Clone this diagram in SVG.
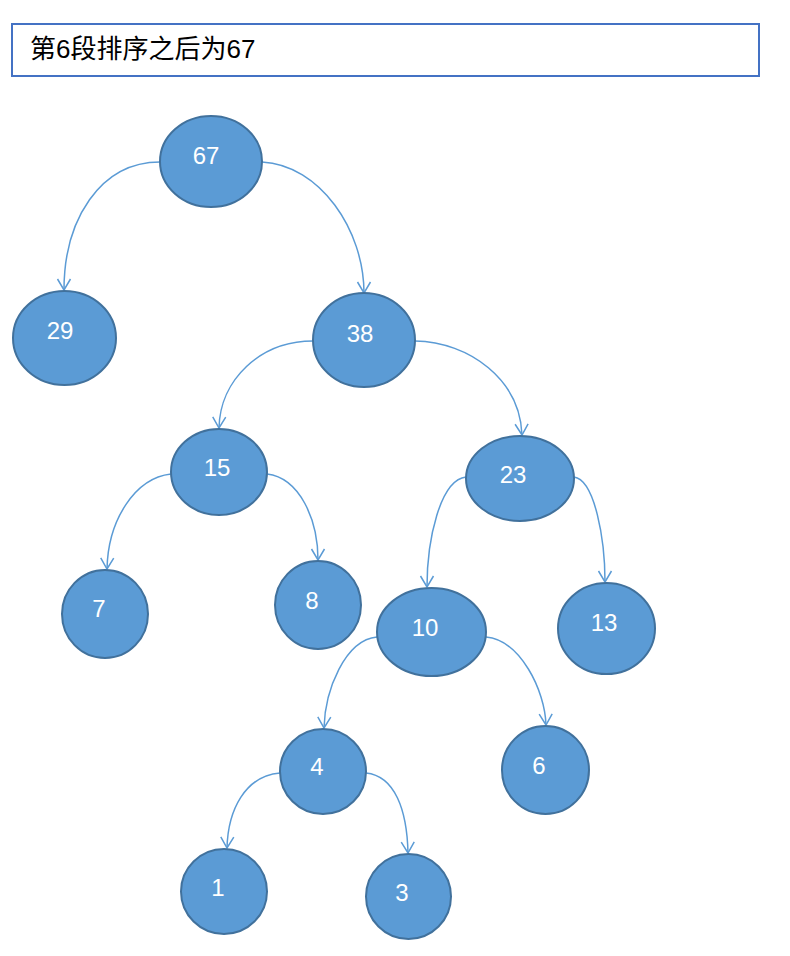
<svg xmlns="http://www.w3.org/2000/svg" width="790" height="956" viewBox="0 0 790 956">
<style>
.n ellipse{fill:#5B9BD5;stroke:#41719C;stroke-width:2}
.n text{fill:#fff;font-family:"Liberation Sans",Arial,sans-serif;font-size:24px;text-anchor:middle}
.e path{fill:none;stroke:#5B9BD5;stroke-width:1.5;marker-end:url(#a)}
</style>
<defs>
<marker id="a" markerUnits="userSpaceOnUse" markerWidth="16" markerHeight="16" viewBox="-12 -8 14 16" refX="0" refY="0" orient="auto">
<path d="M-11,-6.5 L0,0 L-11,6.5" fill="none" stroke="#5B9BD5" stroke-width="1.5"/>
</marker>
</defs>
<rect width="790" height="956" fill="#fff"/>
<g id="title">
<rect x="12" y="24" width="747" height="52" fill="#fff" stroke="#4472C4" stroke-width="2"/>
<text x="30" y="58" font-family="'Liberation Sans','Noto Sans CJK SC',sans-serif" font-size="26" fill="#000">第6段排序之后为67</text>
</g>
<g id="edges" class="e">
<path d="M160,162 C100,162 64,220 64,290"/>
<path d="M262,162 C320,165 364,230 364,293"/>
<path d="M313,341 C260,341 220,380 219,428"/>
<path d="M415,341 C470,342 520,380 522,435"/>
<path d="M171,474 C135,478 108,520 107,569"/>
<path d="M267,474 C300,478 318,520 318,560"/>
<path d="M466,477 C440,480 427,540 427,587"/>
<path d="M574,477 C595,480 605,540 605,582"/>
<path d="M377,637 C345,640 325,690 324,728"/>
<path d="M486,637 C520,640 545,690 546,725"/>
<path d="M280,773 C245,776 228,810 227,848"/>
<path d="M366,773 C395,776 407,810 408,853"/>
</g>
<g id="n67" class="n"><ellipse cx="211" cy="161.5" rx="51" ry="45.5"/><text x="206" y="164">67</text></g>
<g id="n29" class="n"><ellipse cx="64.5" cy="338" rx="51.5" ry="47"/><text x="60" y="339">29</text></g>
<g id="n38" class="n"><ellipse cx="364" cy="340" rx="51" ry="47"/><text x="360" y="342">38</text></g>
<g id="n15" class="n"><ellipse cx="219" cy="472" rx="48" ry="43"/><text x="217" y="476">15</text></g>
<g id="n23" class="n"><ellipse cx="520" cy="478.5" rx="54" ry="42.5"/><text x="513" y="483">23</text></g>
<g id="n7" class="n"><ellipse cx="105" cy="614" rx="43" ry="44"/><text x="99" y="617">7</text></g>
<g id="n8" class="n"><ellipse cx="318" cy="605" rx="43" ry="44"/><text x="312" y="609">8</text></g>
<g id="n10" class="n"><ellipse cx="431.5" cy="632" rx="54.5" ry="44"/><text x="425" y="636">10</text></g>
<g id="n13" class="n"><ellipse cx="606.5" cy="628.5" rx="48.5" ry="45.5"/><text x="604" y="631">13</text></g>
<g id="n4" class="n"><ellipse cx="323" cy="771.5" rx="43" ry="42.5"/><text x="317" y="775">4</text></g>
<g id="n6" class="n"><ellipse cx="545.5" cy="770" rx="43.5" ry="44"/><text x="539" y="774">6</text></g>
<g id="n1" class="n"><ellipse cx="224" cy="891.5" rx="43" ry="42.5"/><text x="218" y="896">1</text></g>
<g id="n3" class="n"><ellipse cx="408.5" cy="896.5" rx="42.5" ry="42.5"/><text x="402" y="901">3</text></g>
</svg>
